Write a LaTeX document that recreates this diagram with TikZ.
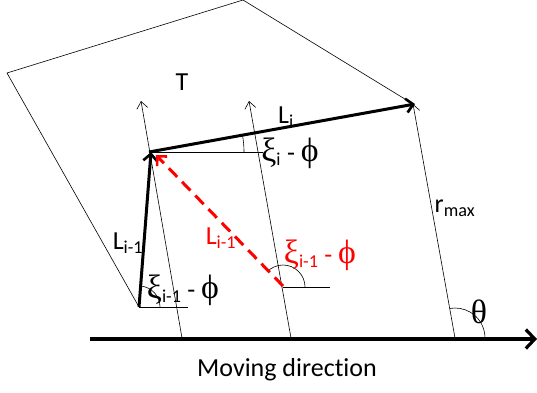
\documentclass[tikz,border=0pt]{standalone}
\usepackage{fontspec}
\setmainfont{Carlito}[Ligatures=NoCommon]
\newfontfamily\grk{Liberation Serif}[Scale=1.3]
\usetikzlibrary{positioning,arrows.meta,calc}

\begin{document}
\begin{tikzpicture}[
    x=1pt, y=-1pt,
    thin line/.style={line width=0.6pt},
    thin arrow/.style={-{Straight Barb[length=7pt,width=11pt]}, line width=0.6pt},
    bold arrow/.style={-{Straight Barb[length=7pt,width=14pt,line width=2.6pt]}, line width=3pt},
    red arrow/.style={bold arrow, red, dash pattern=on 12pt off 7pt},
    lbl/.style={font=\fontsize{26}{28}\selectfont, inner sep=0pt}
  ]
    \useasboundingbox (0,0) rectangle (537,392);

    % Points
    \coordinate (p0) at (139,307);
    \coordinate (p1) at (151,152);
    \coordinate (p2) at (415,104);
    \coordinate (q0) at (283,286);
    \coordinate (tl) at (7,73);
    \coordinate (tt) at (243,0);
    \coordinate (b1) at (182,338);
    \coordinate (t1) at (141,101);
    \coordinate (b2) at (291,338);
    \coordinate (t2) at (249,101);
    \coordinate (b3) at (455,338);
    \coordinate (t3) at (413,104);
    \coordinate (ms) at (90,339);
    \coordinate (me) at (537,339);

    % Outline of T
    \draw[thin line] (p0) -- (tl) -- (tt) -- (t3);

    % Direction lines
    \draw[thin arrow] (b1) -- (t1);
    \draw[thin arrow] (b2) -- (t2);
    \draw[thin arrow] (b3) -- (t3);

    % Horizontal references
    \draw[thin line] (p0) -- ++(49,0);
    \draw[thin line] (p1) -- ++(112,0);
    \draw[thin line] (q0) ++(0,1) -- ++(47,0);

    % Angles
    \draw[thin line] (p0) ++(21,0) arc[start angle=0, end angle=-85, radius=21];
    \draw[thin line] (p1) ++(93,0) arc[start angle=0, end angle=-10, radius=93];
    \draw[thin line] (q0) ++(22,1) arc[start angle=0, end angle=-137, radius=22];
    \draw[thin line] (b3) ++(30,0) arc[start angle=0, end angle=-100, radius=30];

    % Moving direction
    \draw[-{Straight Barb[length=9pt,width=19pt,line width=3.2pt]}, line width=3.8pt] (ms) -- (me);

    % Steps
    \draw[bold arrow] (p0) -- (p1);
    \draw[bold arrow] ($(p1)+(-2,0)$) -- (p2);
    \draw[red arrow] (q0) -- ($(p1)+(5,3)$);

    % Labels
    \node[lbl] (T) at (182,82) {T};
    \node[lbl] (Li) at (286,117) {L\textsubscript{i}};
    \node[lbl] (xii) at (290,153) {{\grk ξ}\textsubscript{i} - {\grk ϕ}};
    \node[lbl] (Lim) at (128,243) {L\textsubscript{i-1}};
    \node[lbl] (xiim) at (183,290) {{\grk ξ}\textsubscript{i-1} - {\grk ϕ}};
    \node[lbl, red] (rLim) at (221,238) {L\textsubscript{i-1}};
    \node[lbl, red] (rxiim) at (320,255) {{\grk ξ}\textsubscript{i-1} - {\grk ϕ}};
    \node[lbl] (rmax) at (455,208) {r\textsubscript{max}};
    \node[lbl] (theta) at (479,312) {\grk θ};
    \node[lbl] (move) at (287,370) {Moving direction};
  \end{tikzpicture}
\end{document}
